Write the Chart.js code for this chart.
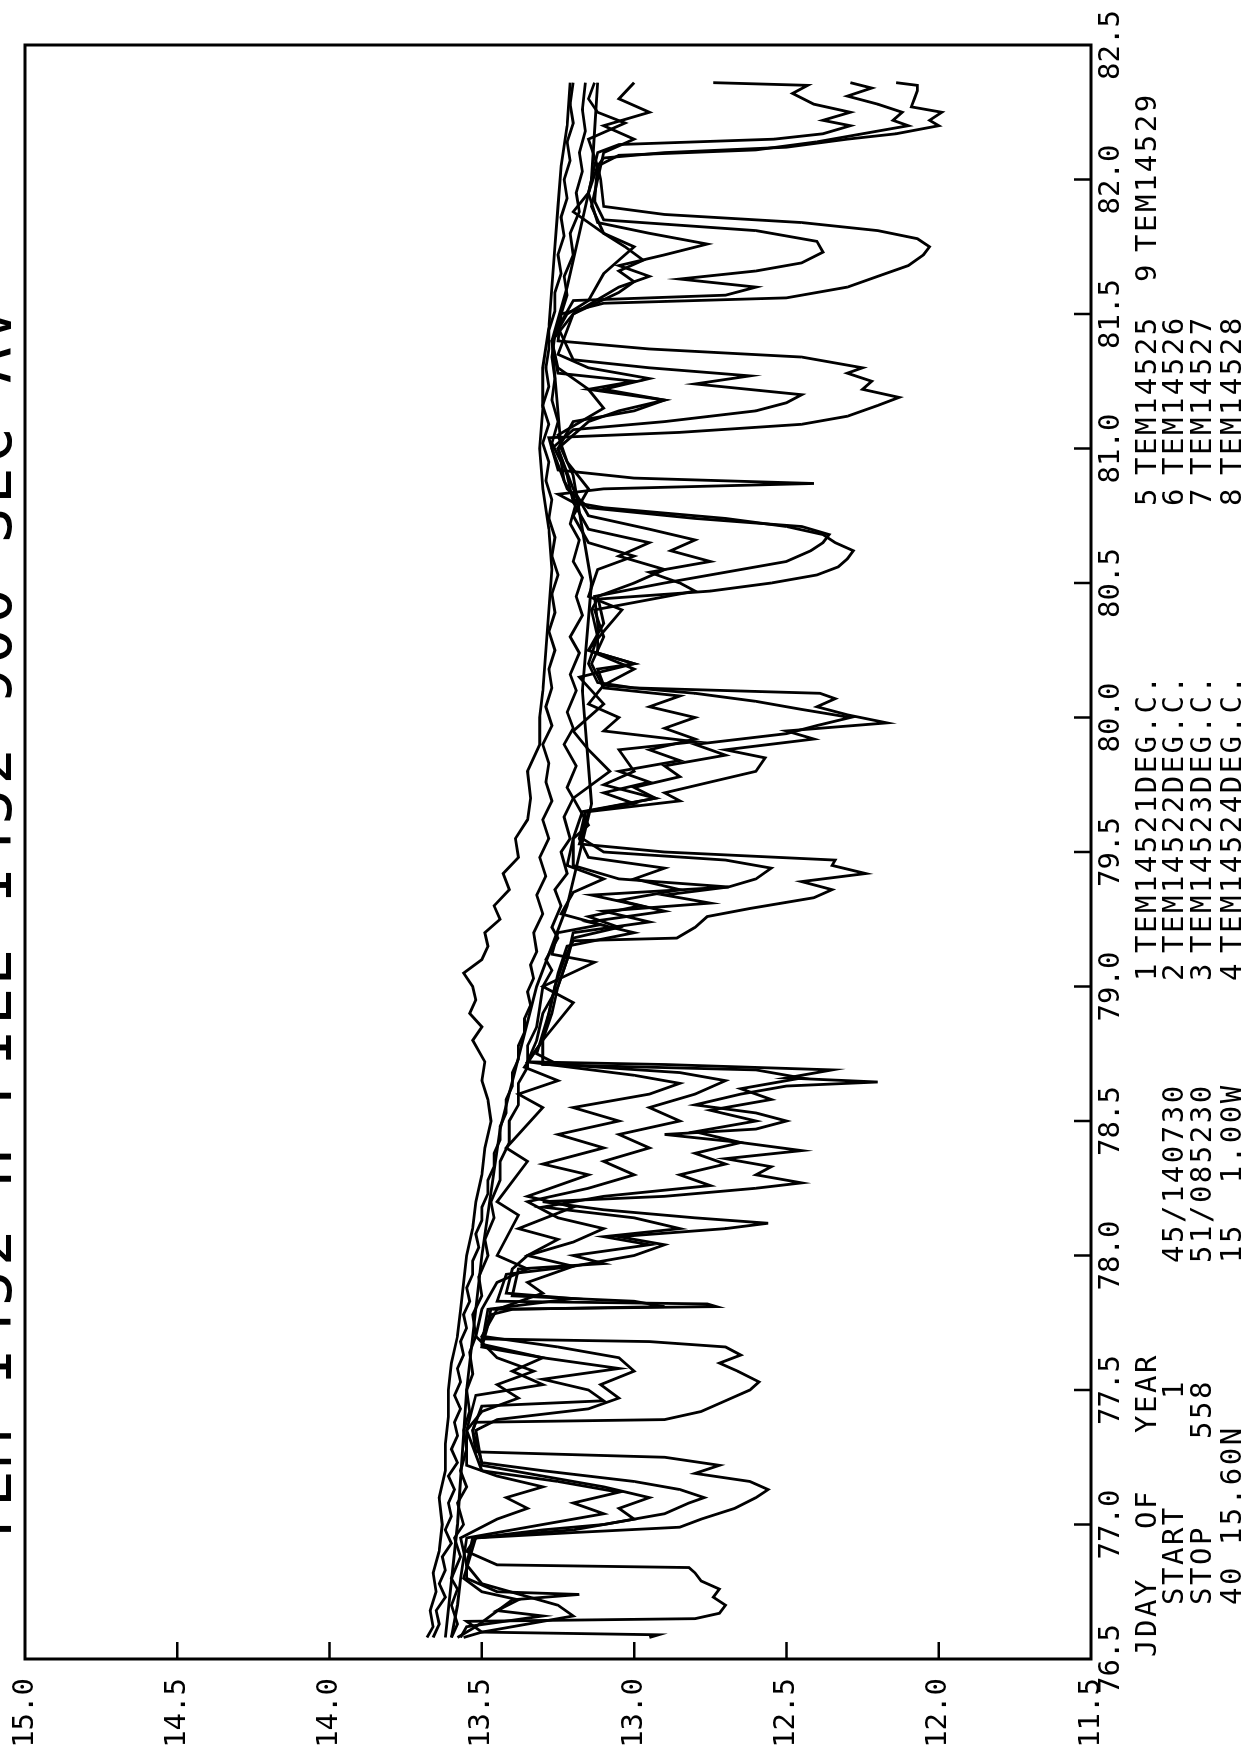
<!DOCTYPE html>
<html>
<head>
<meta charset="utf-8">
<script src="https://cdn.jsdelivr.net/npm/chart.js@4/dist/chart.umd.min.js"></script>
<style>
  html, body { margin: 0; padding: 0; background: #fff; overflow: hidden; }
  /* plot is laid out landscape, then turned a quarter-turn to sit upright on the page */
  #page { position: absolute; left: 0; top: 0; width: 1755px; height: 1258px;
          transform-origin: 0 0; transform: translateY(1755px) rotate(-90deg); background: #fff; }
</style>
</head>
<body>
<div id="page"><canvas id="plot" width="1755" height="1258"></canvas></div>
<script>
// day-of-year ticks and temperature ticks
const dayTicks = ['76.5','77.0','77.5','78.0','78.5','79.0','79.5','80.0','80.5','81.0','81.5','82.0','82.5'];
const tempTicks = ['11.5','12.0','12.5','13.0','13.5','14.0','14.5','15.0'];

const titleText = 'TEM 1452 H FILE 1452 900 SEC AV';
const sensorNames = ['TEM14521DEG.C.','TEM14522DEG.C.','TEM14523DEG.C.','TEM14524DEG.C.',
                     'TEM14525','TEM14526','TEM14527','TEM14528','TEM14529'];

// [JDAY, deg C], 900 s averages
const tem14521 = [[76.58,13.68],[76.62,13.66],[76.68,13.67],[76.75,13.65],[76.82,13.66],[76.9,13.64],[77.0,13.63],[77.1,13.64],[77.2,13.62],[77.3,13.62],[77.4,13.61],[77.5,13.61],[77.6,13.6],[77.7,13.58],[77.8,13.57],[77.9,13.56],[78.0,13.55],[78.1,13.53],[78.2,13.52],[78.3,13.5],[78.4,13.49],[78.5,13.47],[78.58,13.48],[78.65,13.5],[78.72,13.49],[78.8,13.53],[78.85,13.5],[78.9,13.54],[78.95,13.52],[79.0,13.53],[79.05,13.56],[79.1,13.5],[79.15,13.48],[79.2,13.49],[79.25,13.44],[79.3,13.46],[79.36,13.41],[79.42,13.43],[79.48,13.38],[79.55,13.39],[79.62,13.35],[79.7,13.34],[79.8,13.35],[79.9,13.31],[80.0,13.31],[80.1,13.3],[80.25,13.29],[80.4,13.28],[80.55,13.27],[80.7,13.28],[80.85,13.3],[81.0,13.31],[81.15,13.3],[81.3,13.3],[81.45,13.28],[81.6,13.27],[81.75,13.26],[81.9,13.25],[82.05,13.24],[82.2,13.22],[82.36,13.21]];
const tem14522 = [[76.58,13.62],[77.0,13.58],[77.5,13.55],[78.0,13.5],[78.47,13.44],[79.0,13.32],[79.3,13.22],[79.68,13.14],[80.1,13.17],[80.5,13.14],[80.9,13.2],[81.0,13.24],[81.4,13.27],[81.6,13.22],[82.0,13.14],[82.36,13.12]];
const tem14523 = [[76.58,13.66],[76.63,13.64],[76.68,13.65],[76.73,13.62],[76.78,13.64],[76.83,13.62],[76.88,13.63],[76.93,13.6],[76.98,13.62],[77.03,13.6],[77.08,13.61],[77.13,13.59],[77.18,13.61],[77.23,13.58],[77.28,13.6],[77.33,13.58],[77.38,13.59],[77.43,13.57],[77.48,13.59],[77.53,13.57],[77.58,13.58],[77.63,13.56],[77.68,13.57],[77.73,13.55],[77.78,13.56],[77.83,13.54],[77.88,13.55],[77.93,13.53],[77.98,13.53],[78.03,13.51],[78.08,13.52],[78.13,13.5],[78.18,13.5],[78.23,13.48],[78.28,13.48],[78.33,13.46],[78.38,13.46],[78.43,13.44],[78.48,13.44],[78.53,13.42],[78.58,13.42],[78.63,13.4],[78.68,13.4],[78.73,13.38],[78.78,13.38],[78.83,13.36],[78.88,13.36],[78.93,13.34],[78.98,13.35],[79.03,13.33],[79.08,13.34],[79.13,13.32],[79.2,13.33],[79.27,13.3],[79.34,13.32],[79.41,13.29],[79.48,13.31],[79.55,13.28],[79.62,13.3],[79.69,13.27],[79.76,13.29],[79.83,13.28],[79.9,13.3],[79.97,13.27],[80.04,13.29],[80.11,13.27],[80.18,13.28],[80.25,13.26],[80.32,13.28],[80.39,13.26],[80.46,13.27],[80.53,13.25],[80.6,13.27],[80.67,13.26],[80.74,13.28],[80.81,13.27],[80.88,13.29],[80.95,13.28],[81.02,13.3],[81.09,13.28],[81.16,13.3],[81.23,13.28],[81.3,13.29],[81.37,13.28],[81.44,13.28],[81.51,13.26],[81.58,13.26],[81.65,13.24],[81.72,13.25],[81.79,13.23],[81.86,13.24],[81.93,13.22],[82.0,13.23],[82.07,13.21],[82.14,13.22],[82.21,13.2],[82.28,13.21],[82.36,13.2]];
const tem14524 = [[76.58,13.6],[76.63,13.58],[76.7,13.6],[76.76,13.58],[76.8,13.6],[76.88,13.57],[76.95,13.59],[77.0,13.56],[77.08,13.58],[77.14,13.55],[77.2,13.57],[77.28,13.55],[77.35,13.56],[77.42,13.54],[77.5,13.55],[77.56,13.53],[77.64,13.54],[77.7,13.52],[77.78,13.53],[77.85,13.5],[77.92,13.51],[78.0,13.48],[78.06,13.49],[78.14,13.46],[78.2,13.47],[78.28,13.44],[78.35,13.44],[78.42,13.41],[78.5,13.41],[78.56,13.38],[78.64,13.38],[78.7,13.35],[78.78,13.35],[78.85,13.32],[78.92,13.31],[79.0,13.3],[79.06,13.27],[79.1,13.29],[79.18,13.25],[79.22,13.27],[79.3,13.24],[79.36,13.26],[79.42,13.22],[79.5,13.24],[79.55,13.21],[79.63,13.23],[79.7,13.2],[79.74,13.22],[79.82,13.19],[79.9,13.23],[79.96,13.2],[80.02,13.22],[80.1,13.19],[80.16,13.21],[80.24,13.18],[80.3,13.21],[80.38,13.17],[80.45,13.19],[80.52,13.17],[80.58,13.2],[80.66,13.18],[80.72,13.21],[80.8,13.19],[80.88,13.23],[80.95,13.24],[81.02,13.27],[81.1,13.25],[81.18,13.27],[81.26,13.26],[81.34,13.27],[81.42,13.26],[81.5,13.24],[81.57,13.22],[81.64,13.23],[81.72,13.2],[81.8,13.21],[81.88,13.18],[81.95,13.19],[82.03,13.17],[82.1,13.18],[82.18,13.16],[82.26,13.17],[82.36,13.16]];
const tem14525 = [[76.58,13.58],[76.62,13.52],[76.72,13.4],[76.74,13.18],[76.75,13.45],[76.8,13.55],[76.85,13.55],[76.95,13.57],[77.02,13.45],[77.06,13.35],[77.1,13.42],[77.14,13.3],[77.18,13.45],[77.22,13.55],[77.35,13.55],[77.42,13.5],[77.47,13.38],[77.52,13.45],[77.57,13.33],[77.62,13.45],[77.7,13.52],[77.8,13.5],[77.9,13.45],[77.95,13.35],[78.0,13.45],[78.15,13.38],[78.2,13.45],[78.35,13.35],[78.4,13.42],[78.55,13.3],[78.6,13.38],[78.65,13.25],[78.7,13.36],[78.8,13.3],[78.94,13.2],[79.0,13.3],[79.09,13.13],[79.12,13.27],[79.2,13.25],[79.23,13.11],[79.27,13.24],[79.35,13.2],[79.4,13.1],[79.45,13.22],[79.55,13.2],[79.6,13.15],[79.7,13.2],[79.8,13.08],[79.88,13.15],[79.95,13.2],[80.05,13.1],[80.15,13.18],[80.2,13.0],[80.25,13.15],[80.32,13.1],[80.4,13.04],[80.45,13.15],[80.55,13.12],[80.6,13.0],[80.65,13.15],[80.75,13.2],[80.85,13.15],[80.95,13.22],[81.05,13.25],[81.15,13.1],[81.22,13.15],[81.3,13.25],[81.4,13.27],[81.5,13.22],[81.55,13.15],[81.65,13.1],[81.7,13.05],[81.75,13.0],[81.8,13.1],[81.88,13.2],[81.95,13.15],[82.05,13.12],[82.15,13.15],[82.21,13.03],[82.25,13.12],[82.3,13.15],[82.36,13.13]];
const tem14526 = [[76.58,13.56],[76.6,13.5],[76.66,13.2],[76.7,13.25],[76.78,13.5],[76.85,13.55],[76.95,13.53],[76.98,13.2],[77.02,13.0],[77.06,13.05],[77.1,12.95],[77.14,13.1],[77.18,13.3],[77.22,13.5],[77.35,13.52],[77.39,13.45],[77.43,13.15],[77.47,13.05],[77.52,13.11],[77.57,13.0],[77.62,13.05],[77.66,13.25],[77.7,13.5],[77.8,13.45],[77.86,13.3],[77.9,13.35],[77.96,13.2],[78.0,13.35],[78.06,13.25],[78.1,13.38],[78.18,13.2],[78.22,13.35],[78.3,13.15],[78.34,13.3],[78.4,13.1],[78.45,13.25],[78.5,13.05],[78.55,13.2],[78.6,12.95],[78.64,12.85],[78.67,13.0],[78.72,13.35],[78.8,13.32],[78.9,13.3],[79.0,13.25],[79.1,13.22],[79.18,13.2],[79.22,13.05],[79.26,13.15],[79.3,12.98],[79.34,13.14],[79.37,12.69],[79.4,13.05],[79.45,13.2],[79.55,13.2],[79.65,13.17],[79.7,12.93],[79.75,13.1],[79.8,13.0],[79.88,13.05],[79.91,12.8],[79.95,13.1],[80.0,13.05],[80.05,13.15],[80.12,13.1],[80.18,13.0],[80.25,13.15],[80.35,13.1],[80.45,13.12],[80.5,13.0],[80.55,12.9],[80.6,13.05],[80.65,12.95],[80.7,13.15],[80.8,13.2],[80.9,13.22],[81.0,13.25],[81.1,13.15],[81.14,13.05],[81.18,12.9],[81.22,13.15],[81.25,13.0],[81.28,13.25],[81.4,13.27],[81.5,13.2],[81.58,13.05],[81.62,13.0],[81.66,13.05],[81.7,12.97],[81.75,13.03],[81.8,13.1],[81.9,13.14],[82.0,13.12],[82.1,13.1],[82.15,13.0],[82.2,13.1],[82.25,12.95],[82.3,13.05],[82.36,13.0]];
const tem14527 = [[76.58,13.6],[76.7,13.58],[76.8,13.57],[76.95,13.55],[77.0,13.3],[77.04,13.1],[77.08,13.2],[77.12,13.05],[77.16,13.25],[77.2,13.5],[77.35,13.55],[77.48,13.52],[77.52,13.3],[77.57,13.4],[77.62,13.3],[77.67,13.5],[77.8,13.48],[77.84,13.2],[77.86,13.42],[77.95,13.4],[78.0,13.35],[78.05,13.2],[78.1,13.1],[78.14,13.25],[78.2,13.35],[78.25,13.15],[78.3,13.0],[78.35,13.1],[78.4,12.95],[78.45,13.05],[78.5,12.85],[78.55,12.95],[78.6,12.8],[78.65,12.7],[78.68,12.85],[78.71,13.25],[78.75,13.32],[78.9,13.28],[79.05,13.25],[79.15,13.22],[79.2,13.0],[79.24,13.15],[79.28,12.9],[79.32,13.05],[79.36,12.85],[79.4,13.0],[79.44,12.9],[79.48,13.15],[79.55,13.18],[79.65,13.16],[79.68,13.0],[79.72,13.1],[79.76,12.95],[79.8,13.05],[79.84,12.85],[79.88,12.95],[79.92,12.8],[79.96,12.9],[80.0,12.8],[80.04,12.95],[80.08,12.85],[80.11,13.1],[80.2,13.14],[80.3,13.1],[80.4,13.13],[80.47,12.8],[80.5,12.85],[80.54,12.95],[80.58,12.75],[80.62,12.88],[80.66,12.8],[80.7,12.95],[80.75,13.15],[80.85,13.2],[81.0,13.25],[81.1,13.2],[81.14,13.0],[81.18,12.9],[81.22,13.1],[81.26,12.95],[81.3,13.15],[81.35,13.25],[81.5,13.2],[81.6,13.05],[81.64,12.95],[81.68,13.05],[81.72,12.9],[81.76,12.76],[81.8,12.95],[81.84,13.12],[81.95,13.15],[82.1,13.12],[82.13,13.05],[82.15,12.54],[82.17,12.38],[82.2,12.29],[82.22,12.38],[82.25,12.29],[82.28,12.41],[82.32,12.48],[82.35,12.43],[82.36,12.74]];
const tem14528 = [[76.58,13.57],[76.62,13.55],[76.66,13.3],[76.68,13.45],[76.72,13.38],[76.75,13.5],[76.8,13.56],[76.95,13.52],[76.98,13.3],[77.0,13.1],[77.04,12.9],[77.08,12.82],[77.1,12.77],[77.13,12.85],[77.16,13.0],[77.2,13.3],[77.23,13.5],[77.35,13.53],[77.44,13.5],[77.46,13.1],[77.5,13.15],[77.54,13.3],[77.58,13.05],[77.62,13.3],[77.66,13.5],[77.78,13.47],[77.8,13.4],[77.81,12.9],[77.83,13.0],[77.85,13.4],[77.95,13.38],[77.97,13.1],[78.0,13.2],[78.04,12.95],[78.07,13.1],[78.1,12.85],[78.14,13.0],[78.18,13.3],[78.22,13.1],[78.26,12.75],[78.3,12.85],[78.34,12.7],[78.38,12.8],[78.42,12.65],[78.46,12.8],[78.5,12.6],[78.54,12.75],[78.58,12.55],[78.62,12.65],[78.66,12.45],[78.69,12.6],[78.71,13.3],[78.8,13.3],[78.9,13.27],[79.0,13.25],[79.1,13.22],[79.2,13.2],[79.24,12.95],[79.28,13.1],[79.31,12.75],[79.34,12.9],[79.37,12.69],[79.4,12.6],[79.44,12.55],[79.47,12.7],[79.5,13.1],[79.55,13.17],[79.65,13.16],[79.7,12.93],[79.74,13.0],[79.78,12.85],[79.82,12.9],[79.86,12.7],[79.9,12.8],[79.94,12.5],[79.97,12.4],[80.0,12.29],[80.03,12.45],[80.06,12.6],[80.09,12.8],[80.12,13.1],[80.18,13.12],[80.2,13.0],[80.24,13.12],[80.35,13.12],[80.45,13.13],[80.5,12.9],[80.54,12.7],[80.58,12.5],[80.62,12.42],[80.65,12.38],[80.68,12.36],[80.71,12.45],[80.74,12.8],[80.78,13.15],[80.85,13.22],[81.0,13.27],[81.07,13.2],[81.1,12.9],[81.14,12.6],[81.17,12.5],[81.2,12.45],[81.24,12.8],[81.27,12.62],[81.3,12.95],[81.33,13.2],[81.45,13.25],[81.55,13.2],[81.57,12.7],[81.6,12.6],[81.63,12.85],[81.66,12.6],[81.69,12.45],[81.73,12.38],[81.77,12.4],[81.81,12.6],[81.85,13.1],[81.92,13.13],[82.05,13.12],[82.09,13.05],[82.11,12.6],[82.14,12.4],[82.17,12.25],[82.2,12.1],[82.22,12.15],[82.25,12.12],[82.28,12.2],[82.31,12.3],[82.34,12.22],[82.36,12.29]];
const tem14529 = [[76.58,12.95],[76.59,12.92],[76.6,13.5],[76.64,13.55],[76.65,12.8],[76.67,12.72],[76.7,12.7],[76.73,12.74],[76.76,12.72],[76.79,12.78],[76.82,12.8],[76.84,12.82],[76.85,13.45],[76.9,13.55],[76.95,13.52],[76.97,13.2],[76.99,12.85],[77.02,12.78],[77.06,12.67],[77.1,12.6],[77.13,12.56],[77.16,12.62],[77.19,12.8],[77.22,12.72],[77.25,12.9],[77.27,13.52],[77.35,13.53],[77.38,13.52],[77.39,12.9],[77.42,12.78],[77.46,12.7],[77.5,12.62],[77.53,12.59],[77.57,12.66],[77.6,12.72],[77.63,12.65],[77.66,12.7],[77.68,12.95],[77.69,13.5],[77.75,13.48],[77.8,13.47],[77.81,12.73],[77.82,12.76],[77.83,13.45],[77.93,13.42],[77.96,13.2],[78.0,13.0],[78.04,12.9],[78.07,13.05],[78.1,12.7],[78.12,12.56],[78.14,12.8],[78.17,13.1],[78.2,13.3],[78.22,12.9],[78.25,12.6],[78.27,12.45],[78.3,12.6],[78.33,12.55],[78.36,12.7],[78.39,12.45],[78.42,12.65],[78.45,12.9],[78.47,12.6],[78.5,12.5],[78.53,12.6],[78.56,12.8],[78.6,12.65],[78.63,12.5],[78.645,12.2],[78.66,12.5],[78.69,12.35],[78.71,12.9],[78.72,13.35],[78.8,13.3],[78.9,13.28],[79.0,13.26],[79.1,13.23],[79.17,13.2],[79.18,12.86],[79.22,12.8],[79.26,12.76],[79.29,12.62],[79.33,12.41],[79.36,12.35],[79.39,12.45],[79.42,12.24],[79.45,12.35],[79.47,12.34],[79.5,12.9],[79.53,13.18],[79.6,13.16],[79.65,13.15],[79.69,12.85],[79.72,12.9],[79.76,12.75],[79.8,12.6],[79.85,12.57],[79.88,12.7],[79.92,12.41],[79.95,12.5],[79.98,12.17],[80.01,12.3],[80.04,12.4],[80.07,12.34],[80.09,12.39],[80.11,13.0],[80.13,13.12],[80.2,13.15],[80.3,13.12],[80.4,13.14],[80.44,13.12],[80.47,12.75],[80.5,12.55],[80.53,12.4],[80.56,12.33],[80.59,12.3],[80.62,12.28],[80.65,12.34],[80.68,12.38],[80.71,12.5],[80.74,12.7],[80.78,13.1],[80.8,13.2],[80.83,13.25],[80.85,13.1],[80.87,12.41],[80.89,13.0],[80.92,13.25],[81.0,13.27],[81.04,13.28],[81.06,12.85],[81.09,12.45],[81.12,12.3],[81.16,12.2],[81.19,12.13],[81.22,12.25],[81.25,12.22],[81.28,12.3],[81.3,12.25],[81.34,12.45],[81.37,12.95],[81.4,13.25],[81.5,13.24],[81.54,13.1],[81.56,12.5],[81.6,12.3],[81.64,12.2],[81.68,12.1],[81.72,12.05],[81.75,12.03],[81.78,12.07],[81.81,12.2],[81.84,12.45],[81.87,12.9],[81.9,13.1],[82.0,13.11],[82.05,13.12],[82.08,13.1],[82.1,12.9],[82.12,12.5],[82.15,12.3],[82.17,12.14],[82.2,12.0],[82.22,12.03],[82.25,11.99],[82.27,12.09],[82.3,12.08],[82.33,12.07],[82.35,12.07],[82.36,12.14]];

const allSeries = [tem14521, tem14522, tem14523, tem14524, tem14525, tem14526, tem14527, tem14528, tem14529];

const FONT = '"DejaVu Sans Mono", "Liberation Mono", monospace';

// frame, inward tick marks, title and the run legend under the day axis
const annotatePlot = {
  id: 'annotatePlot',
  afterDraw(chart) {
    const { ctx, chartArea: a, scales } = chart;
    ctx.save();
    ctx.strokeStyle = '#000';
    ctx.lineWidth = 3;
    ctx.strokeRect(a.left, a.top, a.right - a.left, a.bottom - a.top);

    ctx.lineWidth = 2.5;
    ctx.beginPath();
    scales.x.ticks.forEach(t => {
      if (t.value <= scales.x.min || t.value >= scales.x.max) return;
      const px = scales.x.getPixelForValue(t.value);
      ctx.moveTo(px, a.bottom);
      ctx.lineTo(px, a.bottom - 17);
    });
    scales.y.ticks.forEach(t => {
      if (t.value <= scales.y.min || t.value >= scales.y.max) return;
      const py = scales.y.getPixelForValue(t.value);
      ctx.moveTo(a.left, py);
      ctx.lineTo(a.left + 17, py);
    });
    ctx.stroke();

    ctx.fillStyle = '#000';
    ctx.textBaseline = 'alphabetic';

    // title runs off the top edge of the sheet
    ctx.font = '60px ' + FONT;
    ctx.letterSpacing = '4px';
    ctx.textAlign = 'center';
    ctx.fillText(titleText, 830, 11);

    ctx.font = '29px ' + FONT;
    ctx.letterSpacing = '2.5px';
    ctx.textAlign = 'left';
    const rowB = 1156, rowC = 1183, rowD = 1211, rowE = 1241;
    ctx.fillText('JDAY', 98, rowB);
    ctx.fillText('OF', 226, rowB);
    ctx.fillText('YEAR', 322, rowB);
    ctx.fillText('START', 150, rowC);
    ctx.fillText('STOP', 150, rowD);
    ctx.fillText('40 15.60N', 150, rowE);
    ctx.fillText('45/140730', 492, rowC);
    ctx.fillText('51/085230', 492, rowD);
    ctx.fillText('15  1.00W', 492, rowE);
    ctx.textAlign = 'right';
    ctx.fillText('1', 376, rowC);
    ctx.fillText('558', 376, rowD);
    ctx.textAlign = 'left';

    const rows = [rowB, rowC, rowD, rowE];
    for (let i = 0; i < 4; i++) {
      ctx.fillText(String(i + 1), 774, rows[i]);
      ctx.fillText(sensorNames[i], 802, rows[i]);
      ctx.fillText(String(i + 5), 1249, rows[i]);
      ctx.fillText(sensorNames[i + 4], 1280, rows[i]);
    }
    ctx.fillText('9', 1473, rowB);
    ctx.fillText(sensorNames[8], 1503, rowB);
    ctx.restore();
  }
};

new Chart(document.getElementById('plot'), {
  type: 'line',
  data: {
    datasets: allSeries.map((s, i) => ({
      label: sensorNames[i],
      data: s.map(p => ({ x: p[0], y: p[1] })),
      borderColor: '#000',
      borderWidth: 2.8,
      pointRadius: 0,
      tension: 0,
      fill: false
    }))
  },
  options: {
    responsive: false,
    animation: false,
    devicePixelRatio: 1,
    layout: { padding: { top: 25, right: 45, left: 0, bottom: 0 } },
    plugins: { legend: { display: false }, tooltip: { enabled: false } },
    scales: {
      x: {
        type: 'linear', min: 76.5, max: 82.5,
        grid: { display: false, drawTicks: false },
        border: { display: false },
        ticks: { stepSize: 0.5, autoSkip: false, maxRotation: 0, padding: 3, color: '#000',
                 font: { family: FONT, size: 29 }, callback: (v, i) => dayTicks[i] },
        afterFit(s) { s.height = 167; s.paddingLeft = 0; s.paddingRight = 0; }
      },
      y: {
        type: 'linear', min: 11.5, max: 15,
        grid: { display: false, drawTicks: false },
        border: { display: false },
        ticks: { stepSize: 0.5, autoSkip: false, padding: 19, color: '#000',
                 font: { family: FONT, size: 29 }, callback: (v, i) => tempTicks[i] },
        afterFit(s) { s.width = 96; s.paddingTop = 0; s.paddingBottom = 0; }
      }
    }
  },
  plugins: [annotatePlot]
});
</script>
</body>
</html>
